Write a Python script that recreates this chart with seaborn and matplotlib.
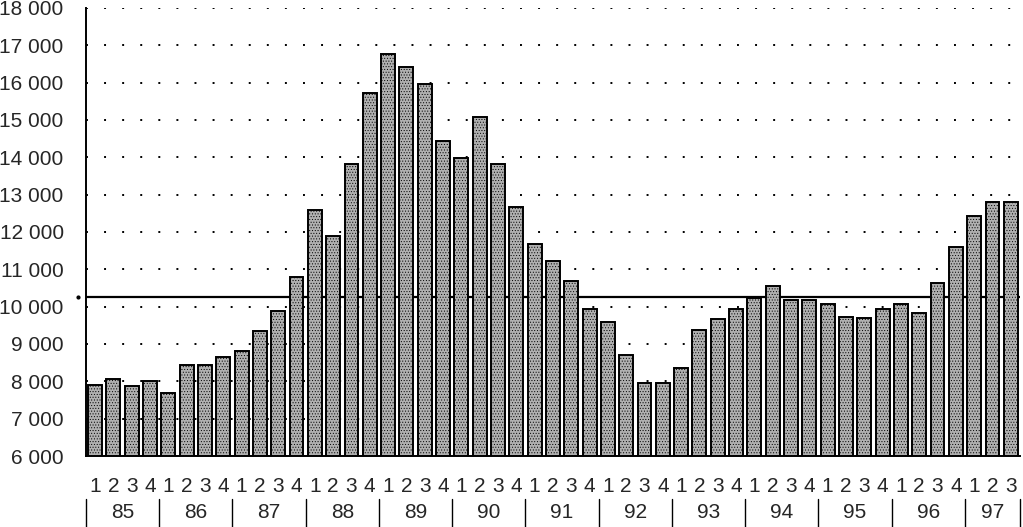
import numpy as np
import pandas as pd
import seaborn as sns
import matplotlib.pyplot as plt
import matplotlib.transforms as mtransforms

# quarterly values 1985Q1 - 1997Q3
years = ["85", "86", "87", "88", "89", "90", "91", "92", "93", "94", "95", "96", "97"]
quarters_per_year = [4, 4, 4, 4, 4, 4, 4, 4, 4, 4, 4, 4, 3]
values = [
    7900, 8060, 7870, 8010,
    7690, 8440, 8440, 8660,
    8820, 9360, 9870, 10800,
    12580, 11900, 13810, 15720,
    16770, 16420, 15960, 14430,
    13970, 15070, 13810, 12660,
    11690, 11210, 10700, 9950,
    9600, 8710, 7960, 7960,
    8370, 9370, 9680, 9950,
    10240, 10560, 10190, 10190,
    10080, 9730, 9700, 9950,
    10080, 9840, 10640, 11610,
    12420, 12790, 12790,
]
average_level = 10270

quarter_labels = []
year_of_bar = []
for y, n in zip(years, quarters_per_year):
    for q in range(1, n + 1):
        quarter_labels.append(str(q))
        year_of_bar.append(y)

df = pd.DataFrame({
    "period": [f"{y}Q{q}" for y, q in zip(year_of_bar, quarter_labels)],
    "value": values,
})

sns.set_style("white")
plt.rcParams["font.family"] = ["Liberation Sans", "DejaVu Sans"]
plt.rcParams["hatch.linewidth"] = 0.4
plt.rcParams["hatch.color"] = "#555555"

fig = plt.figure(figsize=(10.23, 5.27), dpi=100)
ax = fig.add_axes([0.084, 0.1347, 0.913, 0.8503])

ax.set_axisbelow(True)
ax.yaxis.grid(True, color="black", linewidth=1.4, linestyle=(0, (1, 8.3)))

ax.axhline(average_level, color="black", linewidth=1.6, zorder=1)

sns.barplot(data=df, x="period", y="value", color="#b0b0b0", saturation=1,
            width=0.76, edgecolor="black", linewidth=1.4, hatch="......",
            zorder=2, ax=ax)

ax.set_ylim(6000, 18000)
ax.set_xlim(-0.5, len(values) - 0.5)
ax.set_yticks(np.arange(6000, 18001, 1000))
ax.set_yticklabels([f"{v // 1000} 000" for v in range(6000, 18001, 1000)])
ax.set_xticks(range(len(values)))
ax.set_xticklabels(quarter_labels)
ax.tick_params(axis="x", length=0, pad=15, labelsize=15)
ax.tick_params(axis="y", length=0, pad=16, labelsize=15)
ax.set_xlabel("")
ax.set_ylabel("")

for side in ["top", "right"]:
    ax.spines[side].set_visible(False)
ax.spines["left"].set_linewidth(1.4)
ax.spines["bottom"].set_linewidth(1.4)
ax.spines["left"].set_color("black")
ax.spines["bottom"].set_color("black")

# small mark on the axis at the average level
ax.plot([-0.009], [average_level], marker=".", markersize=4, color="black",
        transform=mtransforms.blended_transform_factory(ax.transAxes, ax.transData),
        clip_on=False)

# year labels with separators below quarter numbers
trans = mtransforms.blended_transform_factory(ax.transData, ax.transAxes)
start = 0
for y, n in zip(years, quarters_per_year):
    centre = start + 1.5 if n == 4 else start + (n - 1) / 2
    ax.text(centre, -0.125, y, transform=trans, ha="center", va="center", fontsize=15)
    ax.plot([start - 0.5, start - 0.5], [-0.097, -0.16], transform=trans,
            color="black", linewidth=1.0, clip_on=False)
    start += n
ax.plot([start - 0.5, start - 0.5], [-0.097, -0.16], transform=trans,
        color="black", linewidth=1.0, clip_on=False)

fig.savefig("out.png", dpi=100)
